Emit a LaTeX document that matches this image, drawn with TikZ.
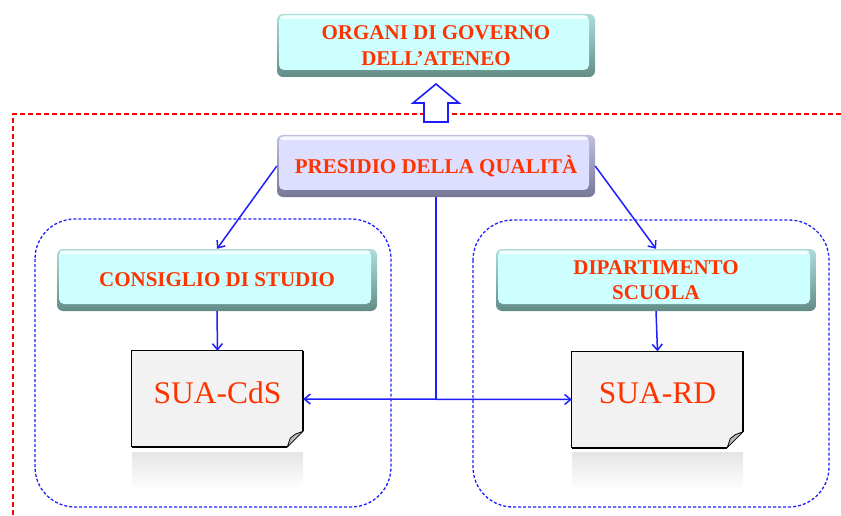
\documentclass[tikz,border=0pt]{standalone}
\usepackage{fontspec}
\setmainfont{Liberation Serif}
\usetikzlibrary{arrows.meta,backgrounds}
\definecolor{txtred}{RGB}{255,51,0}
\definecolor{cyanface}{RGB}{206,255,255}
\definecolor{cyandark}{RGB}{100,140,135}
\definecolor{lavface}{RGB}{222,222,255}
\definecolor{lavdark}{RGB}{118,118,150}
\definecolor{docfill}{RGB}{242,242,242}
\definecolor{myblue}{RGB}{30,30,255}
\definecolor{myred}{RGB}{255,0,0}
\tikzset{
  bevelbox/.style 2 args={rounded corners=6pt, inner sep=0pt, align=center,
    text=txtred, font=\fontsize{21}{25.5}\selectfont\bfseries,
    path picture={
      \shade[sharp corners, top color=#1!70!#2, bottom color=#2]
        (path picture bounding box.south west) rectangle (path picture bounding box.north east);
      \fill[#1, rounded corners=5pt]
        ([xshift=2pt,yshift=-1.5pt]path picture bounding box.north west) rectangle
        ([xshift=-6pt,yshift=7pt]path picture bounding box.south east);
      \fill[white, opacity=0.75, rounded corners=3pt]
        ([xshift=3pt,yshift=-1.5pt]path picture bounding box.north west) rectangle
        ([xshift=-7pt,yshift=-5pt]path picture bounding box.north east);
    }},
  docnode/.style={inner sep=0pt, minimum width=171pt, minimum height=96pt,
    text=txtred, font=\fontsize{31.5}{36}\selectfont, text depth=12pt},
  conn/.style={draw=myblue, line width=1.5pt},
  tip/.style={-{Straight Barb[length=6pt,width=10pt]}},
  bothtip/.style={{Straight Barb[length=6pt,width=10pt]}-{Straight Barb[length=6pt,width=10pt]}},
  reddash/.style={draw=myred, line width=1.4pt, dash pattern=on 5pt off 3pt},
  bluedash/.style={draw=myblue, line width=1.3pt, dash pattern=on 3pt off 2pt, rounded corners=40pt},
  hollowarrow/.style={draw=myblue, fill=white, line width=1.6pt, line join=miter},
}
\begin{document}
\begin{tikzpicture}[x=1pt,y=-1pt]
\useasboundingbox (0,0) rectangle (841,516);

% dashed frames
\draw[reddash] (841,114) -- (13,114) -- (13,516);
\draw[bluedash] (35,219) rectangle (391,507);
\draw[bluedash] (473,220) rectangle (829,507);

% boxes
\node[bevelbox={cyanface}{cyandark}, minimum width=318pt, minimum height=63pt] (og) at (436,45.5) {ORGANI DI GOVERNO\\DELL'ATENEO};
\node[bevelbox={lavface}{lavdark}, minimum width=318pt, minimum height=62pt] (pq) at (436,166) {PRESIDIO DELLA QUALITÀ};
\node[bevelbox={cyanface}{cyandark}, minimum width=320pt, minimum height=62pt] (cons) at (217,280) {CONSIGLIO DI STUDIO};
\node[bevelbox={cyanface}{cyandark}, minimum width=320pt, minimum height=62pt] (dip) at (656,280) {DIPARTIMENTO\\SCUOLA};

% documents
\node[docnode] (cds) at (217.5,399) {SUA-CdS};
\node[docnode] (rd) at (657.5,399.5) {SUA-RD};

\begin{scope}[on background layer]
\foreach \n in {cds,rd} {
  \shade[top color=black!10, bottom color=white]
    ([yshift=-5pt]\n.south west) rectangle ([yshift=-42pt]\n.south east);
  \fill[docfill] (\n.north west) -- (\n.north east) -- ([yshift=16pt]\n.south east)
    -- ([xshift=-16pt]\n.south east) -- (\n.south west) -- cycle;
  \draw[black, line width=1pt] (\n.south west) -- (\n.north west) -- (\n.north east);
  \draw[black, line width=1.8pt] (\n.north east) -- ([yshift=16pt]\n.south east);
  \draw[black, line width=2.2pt] (\n.south west) -- ([xshift=-16pt]\n.south east);
  \filldraw[fill=gray!55, draw=black, line width=0.8pt, line join=round]
    ([yshift=16pt]\n.south east) -- ([xshift=-16pt]\n.south east)
    -- ([xshift=-13pt,yshift=9pt]\n.south east) -- ([xshift=-8pt,yshift=13pt]\n.south east) -- cycle;
}
\end{scope}

% block arrow
\draw[hollowarrow] (436,84) -- (459,103) -- (448,103) -- (448,122) -- (424,122) -- (424,103) -- (413,103) -- cycle;

% connectors
\draw[conn, tip] (pq.west) -- (cons.north);
\draw[conn, tip] (pq.east) -- (dip.north);
\draw[conn, tip] (cons.south) -- (cds.north);
\draw[conn, tip] (dip.south) -- (rd.north);
\coordinate (j) at (pq.south |- cds.east);
\draw[conn] (pq.south) -- (j);
\draw[conn, bothtip] (cds.east) -- (rd.west);
\end{tikzpicture}
\end{document}
